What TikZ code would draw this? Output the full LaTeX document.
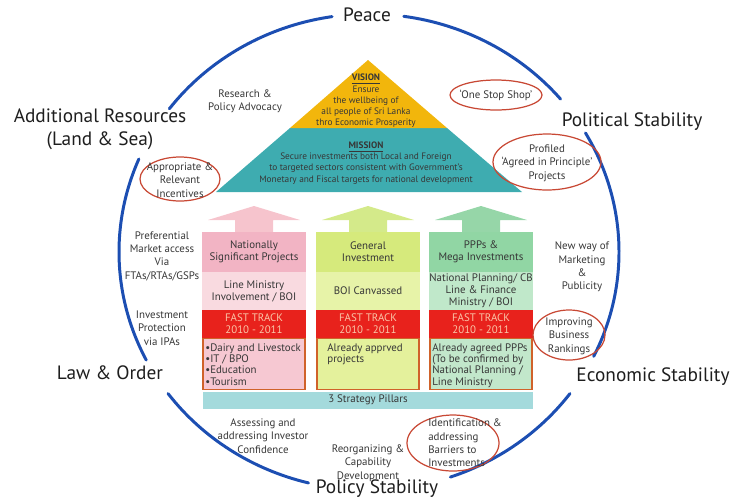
\documentclass[tikz,border=0pt]{standalone}
\usepackage{fontspec}
\setmainfont{PT Sans}
\usetikzlibrary{positioning,calc}
\definecolor{ringblue}{RGB}{28,78,178}
\definecolor{inkdark}{RGB}{30,30,30}
\definecolor{inkgray}{RGB}{55,55,55}
\definecolor{visionyellow}{RGB}{242,182,12}
\definecolor{missionteal}{RGB}{62,172,176}
\definecolor{pillarteal}{RGB}{164,218,220}
\definecolor{ovalred}{RGB}{200,72,52}
\definecolor{pinkA}{RGB}{242,180,196}
\definecolor{pinkB}{RGB}{249,218,224}
\definecolor{pinkC}{RGB}{246,200,210}
\definecolor{limeA}{RGB}{214,234,124}
\definecolor{limeB}{RGB}{231,243,168}
\definecolor{limeC}{RGB}{228,241,156}
\definecolor{greenA}{RGB}{145,214,164}
\definecolor{greenB}{RGB}{192,232,202}
\definecolor{greenC}{RGB}{194,231,203}
\definecolor{arrowpink}{RGB}{246,196,205}
\definecolor{arrowlime}{RGB}{212,234,138}
\definecolor{arrowgreen}{RGB}{150,214,168}
\definecolor{fastred}{RGB}{232,34,28}
\definecolor{fasttext}{RGB}{250,198,168}
\definecolor{boxedge}{RGB}{208,98,42}

\begin{document}
\begin{tikzpicture}[x=0.02cm, y=-0.02cm,
  big/.style={font=\fontsize{11}{13}\selectfont, text=inkdark, align=center},
  note/.style={font=\fontsize{6.2}{7.6}\selectfont, text=inkgray, align=center},
  ring/.style={draw=ringblue, line width=1.7pt, line cap=round},
  oval/.style={draw=ovalred, line width=0.7pt},
  tier/.style={minimum width=2.08cm, inner sep=0pt, align=center, text=inkgray,
    font=\fontsize{6.2}{6.9}\selectfont},
  fast/.style={tier, fill=fastred, minimum height=0.56cm, text=fasttext},
  deal/.style={minimum width=2.04cm, minimum height=1.02cm, draw=boxedge,
    line width=0.8pt, inner sep=0pt},
  dealtext/.style={anchor=north west, inner sep=0pt, align=left, text=inkgray,
    font=\fontsize{6.2}{6.5}\selectfont}]
\useasboundingbox (0,0) rectangle (732,501);

% outer ring, broken where the labels sit
\foreach \a/\b in {-82/-40, -30/26, 36.5/71, 104/143.5, 153/203, 217/261.5}
  \draw[ring] (369,252) ++(\a:250 and 238)
    arc[start angle=\a, end angle=\b, x radius=250, y radius=238];
\node[big] (peace) at (367,15) {Peace};
\node[big] (political) at (632,122) {Political Stability};
\node[big] (economic) at (653,377) {Economic Stability};
\node[big] (policy) at (377,489) {Policy Stability};
\node[big] (laworder) at (110,373) {Law \& Order};
\node[big, align=center] (resources) at (100,129) {Additional Resources\\(Land \& Sea)};

% pyramid
\fill[missionteal] (216,192) -- (290,128) -- (447,128) -- (522,192) -- cycle;
\fill[visionyellow] (290,128) -- (368,60) -- (447,128) -- cycle;
\node[font=\fontsize{5.3}{6.4}\selectfont, text=inkgray, align=center] (vision) at (366,101)
  {\underline{\textbf{VISION}}\\Ensure\\the wellbeing of\\all people of Sri Lanka\\thro Economic Prosperity};
\node[font=\fontsize{5.3}{6.4}\selectfont, text=inkgray, align=center] (mission) at (366,163)
  {\underline{\textbf{MISSION}}\\Secure investments both Local and Foreign\\to targeted sectors consistent with Government's\\Monetary and Fiscal targets for national development};

% pillar arrows
\foreach \cx/\col in {254/arrowpink, 368/arrowlime, 481/arrowgreen}
  \fill[\col] (\cx-19,232) -- (\cx-19,220) -- (\cx-46,220) -- (\cx,206)
    -- (\cx+46,220) -- (\cx+19,220) -- (\cx+19,232) -- cycle;

% pillar 1
\node[tier, fill=pinkA, minimum height=0.8cm] (nsp) at (254,252) {Nationally\\Significant Projects};
\node[tier, fill=pinkB, minimum height=0.76cm] (lineministry) at (254,291) {Line Ministry\\Involvement / BOI};
\node[fast] (fast1) at (254,324) {FAST TRACK\\2010 - 2011};
\node[deal, fill=pinkC] (deal1) at (254,364) {};
\node[dealtext] (deal1txt) at (205,343) {\textbullet Dairy and Livestock\\\textbullet IT / BPO\\\textbullet Education\\\textbullet Tourism};

% pillar 2
\node[tier, fill=limeA, minimum height=0.8cm] (general) at (368,252) {General\\Investment};
\node[tier, fill=limeB, minimum height=0.76cm] (canvassed) at (368,291) {BOI Canvassed};
\node[fast] (fast2) at (368,324) {FAST TRACK\\2010 - 2011};
\node[deal, fill=limeC] (deal2) at (368,364) {};
\node[dealtext] (deal2txt) at (327,343) {Already apprved\\projects};

% pillar 3
\node[tier, fill=greenA, minimum height=0.8cm] (ppp) at (481,252) {PPPs \&\\Mega Investments};
\node[tier, fill=greenB, minimum height=0.76cm] (planning) at (481,291) {National Planning/ CB\\Line \& Finance\\Ministry / BOI};
\node[fast] (fast3) at (481,324) {FAST TRACK\\2010 - 2011};
\node[deal, fill=greenC] (deal3) at (481,364) {};
\node[dealtext] (deal3txt) at (432,343) {Already agreed PPPs\\(To be confirmed by\\National Planning /\\Line Ministry};

% base
\node[fill=pillarteal, minimum width=6.6cm, minimum height=0.34cm, inner sep=0pt,
  text=inkgray, font=\fontsize{6.2}{7}\selectfont] (pillars) at (368,400) {3 Strategy Pillars};

% notes round the house
\node[note] (research) at (245,101) {Research \&\\Policy Advocacy};
\node[note] (preferential) at (162,256) {Preferential\\Market access\\Via\\FTAs/RTAs/GSPs};
\node[note] (protection) at (162,328) {Investment\\Protection\\via IPAs};
\node[note] (assessing) at (263,436) {Assessing and\\addressing Investor\\Confidence};
\node[note] (reorganizing) at (368,463) {Reorganizing \&\\Capability\\Development};
\node[note] (newway) at (582,267) {New way of\\Marketing\\\&\\Publicity};

% circled notes
\draw[oval] (496,95) ellipse [x radius=46, y radius=15];
\node[note] (onestop) at (496,95) {`One Stop Shop'};
\draw[oval] (547,162) ellipse [x radius=54, y radius=28];
\node[note] (profiled) at (547,163) {Profiled\\`Agreed in Principle'\\Projects};
\draw[oval] (180,179) ellipse [x radius=40, y radius=22];
\node[note] (incentives) at (180,180) {Appropriate \&\\Relevant\\Incentives};
\draw[oval] (569,335) ellipse [x radius=36, y radius=25];
\node[note] (rankings) at (569,336) {Improving\\Business\\Rankings};
\draw[oval] (453,443) ellipse [x radius=46, y radius=28];
\node[note, align=left] (barriers) at (465,443) {Identification \&\\addressing\\Barriers to\\Investments};
\end{tikzpicture}
\end{document}
